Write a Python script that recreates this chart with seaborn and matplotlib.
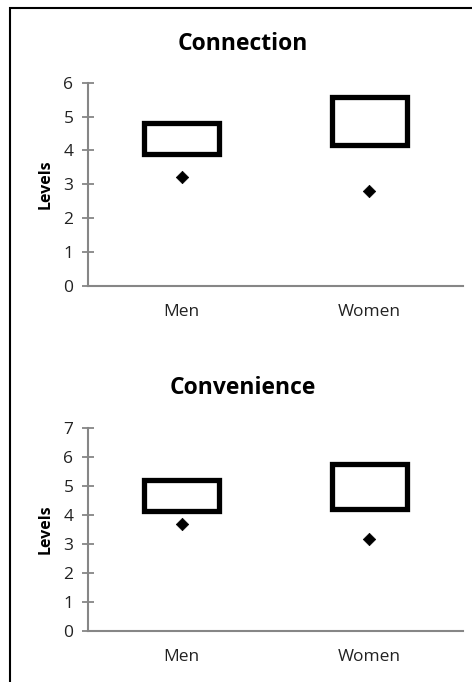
import matplotlib
matplotlib.use("Agg")
import matplotlib.pyplot as plt
import seaborn as sns
import pandas as pd
from matplotlib.patches import Rectangle

# ---- data ----
categories = ["Men", "Women"]
titles = ["Connection", "Convenience"]
connection_low = [3.9, 4.17]
connection_high = [4.8, 5.58]
connection_point = [3.22, 2.79]
convenience_low = [4.15, 4.21]
convenience_high = [5.21, 5.75]
convenience_point = [3.71, 3.19]
ymax = [6, 7]

sns.set_theme(style="white")
plt.rcParams['font.family'] = ['Open Sans', 'DejaVu Sans']

W, H = 472, 682
fig = plt.figure(figsize=(W / 100, H / 100), dpi=100)

# border
fig.patches.append(Rectangle((10 / W, -0.1), 1.2, (H - 8) / H + 0.1, transform=fig.transFigure,
                             fill=False, edgecolor="black", linewidth=1.5, zorder=0))

axes_rects = [
    (88 / W, (H - 286) / H, 375 / W, (286 - 82.7) / H),
    (88 / W, (H - 631) / H, 375 / W, (631 - 428.3) / H),
]
title_y = [44, 388]
lows = [connection_low, convenience_low]
highs = [connection_high, convenience_high]
points = [connection_point, convenience_point]

gray = "#868686"
for i in range(2):
    ax = fig.add_axes(axes_rects[i])
    df = pd.DataFrame({"cat": categories, "low": lows[i], "high": highs[i], "pt": points[i]})
    df["span"] = df["high"] - df["low"]
    sns.scatterplot(data=df, x="cat", y="pt", marker="D", s=40, color="black",
                    edgecolor="black", linewidth=0.5, ax=ax, zorder=5)
    xpos = list(range(len(categories)))
    ax.bar(xpos, df["span"], bottom=df["low"], width=0.4, fill=False,
           edgecolor="black", linewidth=3.8, joinstyle="miter", zorder=4)
    ax.set_xticks(xpos)
    ax.set_xticklabels(categories)
    ax.set_xlim(-0.5, 1.5)
    ax.set_ylim(0, ymax[i])
    ax.set_yticks(range(0, ymax[i] + 1))
    ax.set_xlabel("")
    ax.set_ylabel("Levels", fontsize=11.5, fontweight="bold", color="black", labelpad=7)
    for s in ["top", "right"]:
        ax.spines[s].set_visible(False)
    for s in ["left", "bottom"]:
        ax.spines[s].set_color(gray)
        ax.spines[s].set_linewidth(1.5)
    ax.tick_params(axis="y", direction="inout", length=9, width=1.3, color=gray,
                   labelsize=12.5, labelcolor="#222222", pad=6, left=True)
    ax.tick_params(axis="x", length=0, labelsize=12.5, labelcolor="#222222", pad=13)
    ax.set_facecolor("none")
    fig.text(243 / W, 1 - title_y[i] / H, titles[i], ha="center", va="center",
             fontsize=16.5, fontweight="bold", color="black")

fig.savefig("out.png", dpi=100)
